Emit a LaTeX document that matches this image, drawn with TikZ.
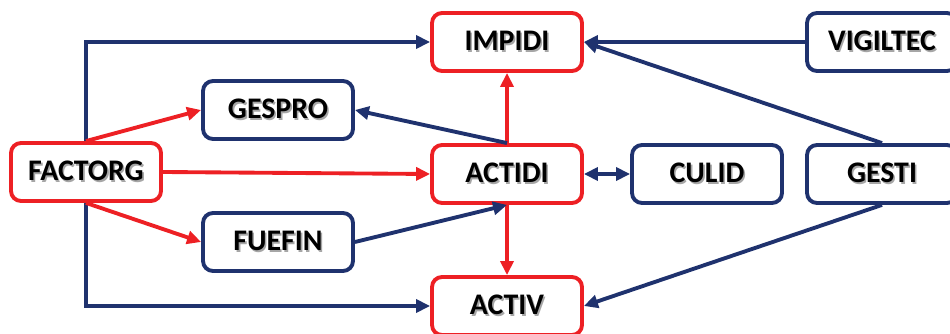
\documentclass[tikz,border=0pt]{standalone}
\usepackage{fontspec}
\setmainfont{Carlito}
\usetikzlibrary{arrows.meta}
\definecolor{accred}{RGB}{237,32,36}
\definecolor{navy}{RGB}{31,50,110}
% bold label with a soft drop shadow
\newcommand\shlabel[1]{\makebox[0pt][l]{\hspace{0.9pt}\raisebox{-0.9pt}{\textcolor{black!35}{#1}}}#1}
\begin{document}
\begin{tikzpicture}[x=0.02cm,y=-0.02cm,
  box/.style={draw,rounded corners=0.2cm,line width=2.2pt,fill=white,
    minimum width=3cm,minimum height=1.16cm,inner sep=0pt,
    font=\fontsize{17}{19}\selectfont\bfseries},
  redbox/.style={box,draw=accred},
  bluebox/.style={box,draw=navy},
  link/.style={line width=2.2pt,-{Triangle[length=0.28cm,width=0.26cm]}},
  redlink/.style={link,draw=accred,color=accred},
  bluelink/.style={link,draw=navy,color=navy},
  bothlink/.style={bluelink,{Triangle[length=0.28cm,width=0.26cm]}-{Triangle[length=0.28cm,width=0.26cm]}}]
\useasboundingbox (0,0) rectangle (950,334);

% boxes
\node[redbox]  (IMPIDI)   at (507,42)  {\shlabel{IMPIDI}};
\node[bluebox] (VIGILTEC) at (882,42)  {\shlabel{VIGILTEC}};
\node[bluebox] (GESPRO)   at (278,110) {\shlabel{GESPRO}};
\node[redbox]  (FACTORG)  at (86,172)  {\shlabel{FACTORG}};
\node[redbox]  (ACTIDI)   at (507,174) {\shlabel{ACTIDI}};
\node[bluebox] (CULID)    at (707,174) {\shlabel{CULID}};
\node[bluebox] (GESTI)    at (882,174) {\shlabel{GESTI}};
\node[bluebox] (FUEFIN)   at (278,242) {\shlabel{FUEFIN}};
\node[redbox]  (ACTIV)    at (507,306) {\shlabel{ACTIV}};

% connectors from FACTORG
\draw[bluelink] (FACTORG.north) |- (IMPIDI.west);
\draw[bluelink] (FACTORG.south) |- (ACTIV.west);
\draw[redlink] (FACTORG.north) -- (GESPRO.west);
\draw[redlink] (FACTORG.south) -- (FUEFIN.west);
\draw[redlink] (FACTORG.east) -- (ACTIDI.west);

% connectors around ACTIDI
\draw[redlink] (ACTIDI.north) -- (IMPIDI.south);
\draw[redlink] (ACTIDI.south) -- (ACTIV.north);
\draw[bluelink] (ACTIDI.north) -- (GESPRO.east);
\draw[bluelink] (FUEFIN.east) -- (ACTIDI.south);
\draw[bothlink] (ACTIDI.east) -- (CULID.west);

% connectors from the right column
\draw[bluelink] (VIGILTEC.west) -- (IMPIDI.east);
\draw[bluelink] (GESTI.north) -- (IMPIDI.east);
\draw[bluelink] (GESTI.south) -- (ACTIV.east);
\end{tikzpicture}
\end{document}
